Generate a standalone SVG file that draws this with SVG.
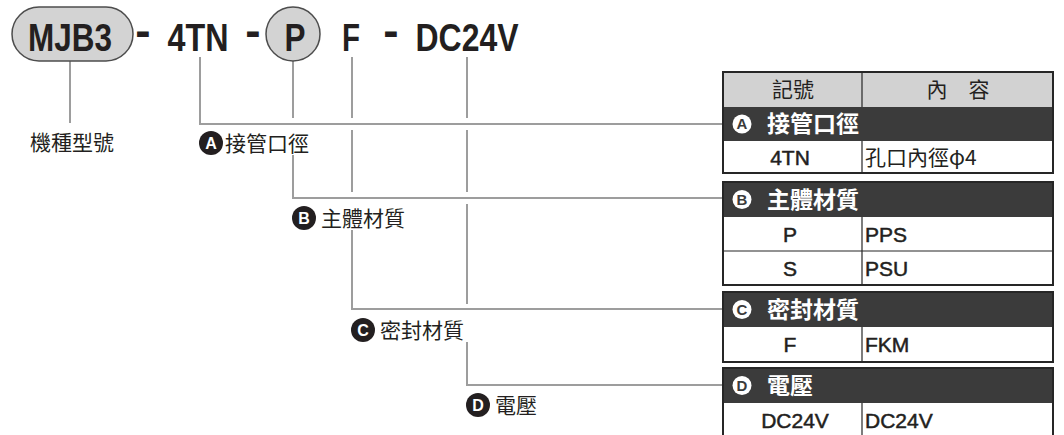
<svg xmlns="http://www.w3.org/2000/svg" width="1064" height="435" viewBox="0 0 1064 435">
<style>
.code{font-family:"Liberation Sans",Arial,sans-serif;font-weight:bold;font-size:38px;fill:#231f20;text-anchor:middle}
.dash{font-family:"Liberation Sans",Arial,sans-serif;font-weight:bold;font-size:46px;fill:#231f20;text-anchor:middle}
.lbl{font-family:"Noto Sans CJK TC","Noto Sans CJK SC",sans-serif;font-size:21px;fill:#231f20}
.badge{fill:#231f20}
.badget{font-family:"Liberation Sans",Arial,sans-serif;font-weight:bold;font-size:16px;fill:#fff;text-anchor:middle}
.wire{fill:none;stroke:#9d9d9d;stroke-width:2}
.hdr{fill:#d2d2d2}
.dark{fill:#3b3b3b}
.row{fill:#fff}
.frame{fill:none;stroke:#262626;stroke-width:2}
.sep{stroke:#262626;stroke-width:1.2}
.th{font-family:"Noto Sans CJK TC","Noto Sans CJK SC",sans-serif;font-size:21px;fill:#231f20;text-anchor:middle}
.sec{font-family:"Noto Sans CJK TC","Noto Sans CJK SC",sans-serif;font-weight:bold;font-size:23px;fill:#fff}
.wb{fill:#fff}
.wbt{font-family:"Liberation Sans",Arial,sans-serif;font-weight:bold;font-size:15px;fill:#3b3b3b;text-anchor:middle}
.d1{font-family:"Liberation Sans",Arial,sans-serif;font-size:21px;fill:#231f20;stroke:#231f20;stroke-width:0.5;text-anchor:middle}
.d2{font-family:"Liberation Sans",Arial,sans-serif;font-size:21px;fill:#231f20;stroke:#231f20;stroke-width:0.5}
.d2c{font-family:"Noto Sans CJK TC","Noto Sans CJK SC",sans-serif;font-size:21px;fill:#231f20}
</style>
<rect width="1064" height="435" fill="#fff"/>

<g id="connectors">
<path class="wire" d="M70 61V123"/>
<path class="wire" d="M200 57V124H723"/>
<path class="wire" d="M293 61V118M293 155V198H723"/>
<path class="wire" d="M352 57V118M352 130V192M352 230V309H723"/>
<path class="wire" d="M467 57V118M467 130V192M467 204V304M467 342V385H723"/>
</g>

<g id="code-mjb3">
<rect x="12" y="7" width="121" height="54" rx="27" fill="#d3d3d3" stroke="#4d4d4d" stroke-width="1.5"/>
<text class="code" x="70" y="51" textLength="84" lengthAdjust="spacingAndGlyphs">MJB3</text>
</g>
<g id="dash1"><text class="dash" x="143" y="46">-</text></g>
<g id="code-4tn"><text class="code" x="198" y="51" textLength="61" lengthAdjust="spacingAndGlyphs">4TN</text></g>
<g id="dash2"><text class="dash" x="253" y="46">-</text></g>
<g id="code-p">
<circle cx="293" cy="34" r="27" fill="#d3d3d3" stroke="#4d4d4d" stroke-width="1.5"/>
<text class="code" x="295" y="51" textLength="21" lengthAdjust="spacingAndGlyphs">P</text>
</g>
<g id="code-f"><text class="code" x="351" y="51" textLength="18" lengthAdjust="spacingAndGlyphs">F</text></g>
<g id="dash3"><text class="dash" x="391" y="46">-</text></g>
<g id="code-dc24v"><text class="code" x="467" y="51" textLength="103" lengthAdjust="spacingAndGlyphs">DC24V</text></g>

<g id="label-model"><text class="lbl" x="30" y="150">機種型號</text></g>
<g id="label-a">
<circle class="badge" cx="211" cy="143" r="12"/>
<text class="badget" x="211" y="148.8">A</text>
<text class="lbl" x="225" y="150.5">接管口徑</text>
</g>
<g id="label-b">
<circle class="badge" cx="304" cy="218" r="12"/>
<text class="badget" x="304" y="223.8">B</text>
<text class="lbl" x="321" y="225.5">主體材質</text>
</g>
<g id="label-c">
<circle class="badge" cx="363" cy="330" r="12"/>
<text class="badget" x="363" y="335.8">C</text>
<text class="lbl" x="380" y="337.5">密封材質</text>
</g>
<g id="label-d">
<circle class="badge" cx="478" cy="405" r="12"/>
<text class="badget" x="478" y="410.8">D</text>
<text class="lbl" x="495" y="412.5">電壓</text>
</g>

<g id="table-a">
<rect class="hdr" x="723" y="72" width="330" height="35"/>
<rect class="dark" x="723" y="107" width="330" height="34"/>
<rect class="row" x="723" y="141" width="330" height="32"/>
<line class="sep" x1="862" y1="72" x2="862" y2="107"/>
<line class="sep" x1="862" y1="141" x2="862" y2="173"/>
<rect class="frame" x="723" y="72" width="330" height="101"/>
<text class="th" x="793" y="97">記號</text>
<text class="th" x="958" y="97">內　容</text>
<circle class="wb" cx="742" cy="124" r="9.5"/>
<text class="wbt" x="742" y="129.3">A</text>
<text class="sec" x="767" y="132">接管口徑</text>
<text class="d1" x="790" y="164.5">4TN</text>
<text class="d2c" x="865" y="164.5">孔口內徑φ4</text>
</g>

<g id="table-b">
<rect class="dark" x="723" y="182" width="330" height="35"/>
<rect class="row" x="723" y="217" width="330" height="68"/>
<line class="sep" x1="723" y1="251" x2="1053" y2="251"/>
<line class="sep" x1="862" y1="217" x2="862" y2="285"/>
<rect class="frame" x="723" y="182" width="330" height="103"/>
<circle class="wb" cx="742" cy="199.5" r="9.5"/>
<text class="wbt" x="742" y="204.8">B</text>
<text class="sec" x="767" y="207.5">主體材質</text>
<text class="d1" x="790" y="241.5">P</text>
<text class="d2" x="865" y="241.5">PPS</text>
<text class="d1" x="790" y="275.5">S</text>
<text class="d2" x="865" y="275.5">PSU</text>
</g>

<g id="table-c">
<rect class="dark" x="723" y="292" width="330" height="35"/>
<rect class="row" x="723" y="327" width="330" height="35"/>
<line class="sep" x1="862" y1="327" x2="862" y2="362"/>
<rect class="frame" x="723" y="292" width="330" height="70"/>
<circle class="wb" cx="742" cy="309.5" r="9.5"/>
<text class="wbt" x="742" y="314.8">C</text>
<text class="sec" x="767" y="317.5">密封材質</text>
<text class="d1" x="790" y="352">F</text>
<text class="d2" x="865" y="352">FKM</text>
</g>

<g id="table-d">
<rect class="dark" x="723" y="368" width="330" height="35"/>
<rect class="row" x="723" y="403" width="330" height="40"/>
<line class="sep" x1="862" y1="403" x2="862" y2="440"/>
<rect class="frame" x="723" y="368" width="330" height="75"/>
<circle class="wb" cx="742" cy="385.5" r="9.5"/>
<text class="wbt" x="742" y="390.8">D</text>
<text class="sec" x="767" y="393.5">電壓</text>
<text class="d1" x="795" y="428">DC24V</text>
<text class="d2" x="865" y="428">DC24V</text>
</g>
</svg>
